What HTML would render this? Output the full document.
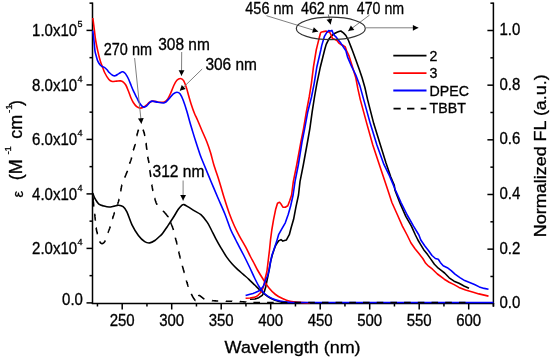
<!DOCTYPE html>
<html><head><meta charset="utf-8"><style>
html,body{margin:0;padding:0;background:#fff;width:550px;height:360px;overflow:hidden}
svg{display:block;will-change:transform;font-family:"Liberation Sans",sans-serif}
text{stroke:#000;stroke-width:0.3px}

</style></head><body>
<svg width="550" height="360" viewBox="0 0 550 360" font-family="Liberation Sans, sans-serif" font-size="15" fill="#000">
<rect width="550" height="360" fill="#fff"/>
<line x1="92.5" y1="2.5" x2="92.5" y2="304" stroke="#000" stroke-width="1.5"/>
<line x1="493.4" y1="2.5" x2="493.4" y2="306.8" stroke="#000" stroke-width="1.5"/>
<line x1="91.8" y1="303.4" x2="494.1" y2="303.4" stroke="#000" stroke-width="1.5"/>
<line x1="89.5" y1="275.65" x2="92.5" y2="275.65" stroke="#000" stroke-width="1.5"/>
<line x1="490.4" y1="276.47" x2="493.4" y2="276.47" stroke="#000" stroke-width="1.5"/>
<line x1="86.5" y1="248.40" x2="92.5" y2="248.40" stroke="#000" stroke-width="1.5"/>
<line x1="487.4" y1="249.14" x2="493.4" y2="249.14" stroke="#000" stroke-width="1.5"/>
<line x1="89.5" y1="221.15" x2="92.5" y2="221.15" stroke="#000" stroke-width="1.5"/>
<line x1="490.4" y1="221.81" x2="493.4" y2="221.81" stroke="#000" stroke-width="1.5"/>
<line x1="86.5" y1="193.90" x2="92.5" y2="193.90" stroke="#000" stroke-width="1.5"/>
<line x1="487.4" y1="194.48" x2="493.4" y2="194.48" stroke="#000" stroke-width="1.5"/>
<line x1="89.5" y1="166.65" x2="92.5" y2="166.65" stroke="#000" stroke-width="1.5"/>
<line x1="490.4" y1="167.15" x2="493.4" y2="167.15" stroke="#000" stroke-width="1.5"/>
<line x1="86.5" y1="139.40" x2="92.5" y2="139.40" stroke="#000" stroke-width="1.5"/>
<line x1="487.4" y1="139.82" x2="493.4" y2="139.82" stroke="#000" stroke-width="1.5"/>
<line x1="89.5" y1="112.15" x2="92.5" y2="112.15" stroke="#000" stroke-width="1.5"/>
<line x1="490.4" y1="112.49" x2="493.4" y2="112.49" stroke="#000" stroke-width="1.5"/>
<line x1="86.5" y1="84.90" x2="92.5" y2="84.90" stroke="#000" stroke-width="1.5"/>
<line x1="487.4" y1="85.16" x2="493.4" y2="85.16" stroke="#000" stroke-width="1.5"/>
<line x1="89.5" y1="57.65" x2="92.5" y2="57.65" stroke="#000" stroke-width="1.5"/>
<line x1="490.4" y1="57.83" x2="493.4" y2="57.83" stroke="#000" stroke-width="1.5"/>
<line x1="86.5" y1="30.40" x2="92.5" y2="30.40" stroke="#000" stroke-width="1.5"/>
<line x1="487.4" y1="30.50" x2="493.4" y2="30.50" stroke="#000" stroke-width="1.5"/>
<line x1="89.5" y1="3.15" x2="92.5" y2="3.15" stroke="#000" stroke-width="1.5"/>
<line x1="490.4" y1="3.17" x2="493.4" y2="3.17" stroke="#000" stroke-width="1.5"/>
<line x1="86.5" y1="302.9" x2="92.5" y2="302.9" stroke="#000" stroke-width="1.5"/>
<line x1="487.4" y1="302.9" x2="493.4" y2="302.9" stroke="#000" stroke-width="1.5"/>
<line x1="97.45" y1="303" x2="97.45" y2="306.5" stroke="#000" stroke-width="1.5"/>
<line x1="122.20" y1="303" x2="122.20" y2="309.5" stroke="#000" stroke-width="1.5"/>
<line x1="146.95" y1="303" x2="146.95" y2="306.5" stroke="#000" stroke-width="1.5"/>
<line x1="171.70" y1="303" x2="171.70" y2="309.5" stroke="#000" stroke-width="1.5"/>
<line x1="196.45" y1="303" x2="196.45" y2="306.5" stroke="#000" stroke-width="1.5"/>
<line x1="221.20" y1="303" x2="221.20" y2="309.5" stroke="#000" stroke-width="1.5"/>
<line x1="245.95" y1="303" x2="245.95" y2="306.5" stroke="#000" stroke-width="1.5"/>
<line x1="270.70" y1="303" x2="270.70" y2="309.5" stroke="#000" stroke-width="1.5"/>
<line x1="295.45" y1="303" x2="295.45" y2="306.5" stroke="#000" stroke-width="1.5"/>
<line x1="320.20" y1="303" x2="320.20" y2="309.5" stroke="#000" stroke-width="1.5"/>
<line x1="344.95" y1="303" x2="344.95" y2="306.5" stroke="#000" stroke-width="1.5"/>
<line x1="369.70" y1="303" x2="369.70" y2="309.5" stroke="#000" stroke-width="1.5"/>
<line x1="394.45" y1="303" x2="394.45" y2="306.5" stroke="#000" stroke-width="1.5"/>
<line x1="419.20" y1="303" x2="419.20" y2="309.5" stroke="#000" stroke-width="1.5"/>
<line x1="443.95" y1="303" x2="443.95" y2="306.5" stroke="#000" stroke-width="1.5"/>
<line x1="468.70" y1="303" x2="468.70" y2="309.5" stroke="#000" stroke-width="1.5"/>
<line x1="493.45" y1="303" x2="493.45" y2="306.5" stroke="#000" stroke-width="1.5"/>
<path d="M92.80,193.00 C93.00,193.58 93.57,195.45 94.00,196.50 C94.43,197.55 94.58,198.03 95.40,199.30 C96.22,200.57 97.47,202.97 98.90,204.10 C100.33,205.23 102.30,205.62 104.00,206.10 C105.70,206.58 107.40,207.00 109.10,207.00 C110.80,207.00 112.62,206.40 114.20,206.10 C115.78,205.80 117.12,205.10 118.60,205.20 C120.08,205.30 121.72,205.60 123.10,206.70 C124.48,207.80 125.42,208.78 126.90,211.80 C128.38,214.82 130.08,220.87 132.00,224.80 C133.92,228.73 136.28,232.60 138.40,235.40 C140.52,238.20 142.80,240.35 144.70,241.60 C146.60,242.85 148.10,243.08 149.80,242.90 C151.50,242.72 153.20,241.65 154.90,240.50 C156.60,239.35 158.70,237.22 160.00,236.00 C161.30,234.78 161.50,234.75 162.70,233.20 C163.90,231.65 165.52,229.18 167.20,226.70 C168.88,224.22 170.95,221.20 172.80,218.30 C174.65,215.40 176.85,211.42 178.30,209.30 C179.75,207.18 180.55,206.38 181.50,205.60 C182.45,204.82 182.88,204.38 184.00,204.60 C185.12,204.82 186.45,205.85 188.20,206.90 C189.95,207.95 192.38,209.60 194.50,210.90 C196.62,212.20 198.77,212.78 200.90,214.70 C203.03,216.62 205.55,219.85 207.30,222.40 C209.05,224.95 210.02,227.35 211.40,230.00 C212.78,232.65 213.98,235.28 215.60,238.30 C217.22,241.32 219.25,244.97 221.10,248.10 C222.95,251.23 224.85,254.45 226.70,257.10 C228.55,259.75 230.35,261.92 232.20,264.00 C234.05,266.08 235.95,267.87 237.80,269.60 C239.65,271.33 241.45,272.78 243.30,274.40 C245.15,276.02 246.95,277.48 248.90,279.30 C250.85,281.12 252.97,283.33 255.00,285.30 C257.03,287.27 258.97,289.23 261.10,291.10 C263.23,292.97 265.58,295.02 267.80,296.50 C270.02,297.98 272.00,299.05 274.40,300.00 C276.80,300.95 279.60,301.73 282.20,302.20 C284.80,302.67 288.70,302.70 290.00,302.80" stroke="#000" stroke-width="1.6" fill="none"/>
<path d="M250.00,299.30 L255.00,299.00 L258.75,297.70 L262.20,295.30 L264.30,291.80 L265.70,287.00 L266.70,282.00 L268.30,274.40 L269.40,268.00 L270.70,261.00 L272.30,255.00 L273.90,250.00 L275.60,245.50 L277.10,243.00 L279.00,240.60 L281.00,239.60 L282.90,241.10 L286.30,240.10 L289.30,234.70 L291.20,227.50 L293.60,219.30 L296.00,206.70 L298.50,195.00 L300.00,181.70 L303.30,165.00 L307.50,142.00 L309.90,128.30 L312.20,111.70 L314.50,97.00 L316.90,83.30 L320.40,66.70 L324.60,50.00 L326.20,44.40 L328.70,39.30 L331.90,35.50 L334.50,33.50 L337.00,32.30 L338.90,31.60 L340.80,31.00 L343.40,32.90 L345.90,35.50 L348.50,40.50 L351.00,46.90 L352.60,51.00 L355.80,59.70 L359.30,69.40 L362.10,77.80 L364.90,87.50 L367.60,99.60 L373.75,123.60 L380.40,145.00 L386.00,163.00 L390.80,177.00 L394.30,185.30 L394.90,190.00 L400.30,203.90 L405.80,216.40 L411.40,226.10 L415.40,235.00 L417.90,240.00 L420.80,244.90 L423.70,249.70 L427.60,254.60 L431.00,259.40 L434.40,264.30 L438.30,268.20 L442.20,271.10 L444.60,273.00 L449.20,277.80 L454.10,281.20 L459.00,283.30 L464.00,286.00 L469.00,288.30" stroke="#000" stroke-width="1.6" fill="none" stroke-linejoin="round"/>
<path d="M92.80,18.00 C92.93,19.00 93.32,21.83 93.60,24.00 C93.88,26.17 94.17,28.33 94.50,31.00 C94.83,33.67 95.05,36.65 95.60,40.00 C96.15,43.35 97.02,47.60 97.80,51.10 C98.58,54.60 99.57,58.50 100.30,61.00 C101.03,63.50 101.48,64.18 102.20,66.10 C102.92,68.02 103.48,70.25 104.60,72.50 C105.72,74.75 107.63,78.10 108.90,79.60 C110.17,81.10 110.90,81.25 112.20,81.50 C113.50,81.75 115.32,81.20 116.70,81.10 C118.08,81.00 119.40,80.73 120.50,80.90 C121.60,81.07 122.42,81.42 123.30,82.10 C124.18,82.78 124.97,83.55 125.80,85.00 C126.63,86.45 127.47,88.72 128.30,90.80 C129.13,92.88 129.97,95.55 130.80,97.50 C131.63,99.45 132.32,100.97 133.30,102.50 C134.28,104.03 135.58,105.77 136.70,106.70 C137.82,107.63 138.90,108.00 140.00,108.10 C141.10,108.20 142.18,107.85 143.30,107.30 C144.42,106.75 145.65,105.65 146.70,104.80 C147.75,103.95 148.50,102.82 149.60,102.20 C150.70,101.58 151.75,101.10 153.30,101.10 C154.85,101.10 157.05,102.05 158.90,102.20 C160.75,102.35 162.92,102.55 164.40,102.00 C165.88,101.45 166.68,100.53 167.80,98.90 C168.92,97.27 170.10,94.43 171.10,92.20 C172.10,89.97 172.83,87.48 173.80,85.50 C174.77,83.52 175.80,81.47 176.90,80.30 C178.00,79.13 179.28,78.45 180.40,78.50 C181.52,78.55 182.58,79.02 183.60,80.60 C184.62,82.18 185.67,85.52 186.50,88.00 C187.33,90.48 187.83,92.85 188.60,95.50 C189.37,98.15 190.13,100.95 191.10,103.90 C192.07,106.85 193.33,110.52 194.40,113.20 C195.47,115.88 196.28,117.20 197.50,120.00 C198.72,122.80 200.17,126.42 201.70,130.00 C203.23,133.58 205.23,137.75 206.70,141.50 C208.17,145.25 209.30,148.58 210.50,152.50 C211.70,156.42 212.42,160.13 213.90,165.00 C215.38,169.87 217.67,176.15 219.40,181.70 C221.13,187.25 222.60,192.87 224.30,198.30 C226.00,203.73 227.92,209.68 229.60,214.30 C231.28,218.92 232.78,222.42 234.40,226.00 C236.02,229.58 237.43,232.32 239.30,235.80 C241.17,239.28 243.75,243.45 245.60,246.90 C247.45,250.35 248.90,253.60 250.40,256.50 C251.90,259.40 253.42,262.05 254.60,264.30 C255.78,266.55 256.10,267.55 257.50,270.00 C258.90,272.45 261.08,276.00 263.00,279.00 C264.92,282.00 266.92,285.42 269.00,288.00 C271.08,290.58 273.25,292.75 275.50,294.50 C277.75,296.25 280.08,297.38 282.50,298.50 C284.92,299.62 287.08,300.55 290.00,301.20 C292.92,301.85 296.67,302.12 300.00,302.40 C303.33,302.68 308.33,302.82 310.00,302.90" stroke="#f00" stroke-width="1.6" fill="none"/>
<path d="M245.60,298.30 L250.00,298.00 L253.75,297.40 L256.50,296.40 L258.00,295.30 L260.80,292.50 L262.90,288.30 L264.30,283.50 L265.30,278.00 L266.90,271.50 L268.30,260.00 L269.50,250.00 L270.50,240.00 L271.80,230.00 L273.60,219.30 L275.60,209.60 L277.50,203.30 L279.50,202.30 L280.90,203.80 L282.90,207.20 L285.30,207.20 L287.80,205.70 L289.70,200.80 L291.60,195.00 L293.30,181.70 L296.70,165.00 L300.80,142.50 L303.60,128.30 L306.40,111.70 L309.20,97.00 L311.40,83.30 L313.50,66.70 L316.25,50.00 L317.30,45.60 L319.20,38.00 L320.50,33.00 L321.10,32.30 L323.60,31.60 L326.20,31.00 L327.50,32.30 L329.40,31.60 L331.30,35.50 L332.50,38.60 L334.50,39.30 L337.00,40.50 L338.90,43.10 L340.80,44.40 L343.40,45.60 L345.30,46.90 L346.50,50.50 L348.90,55.60 L352.40,66.70 L355.80,77.80 L357.90,88.90 L360.30,99.60 L366.80,123.60 L372.80,145.00 L379.70,165.80 L385.30,182.50 L387.80,190.00 L391.90,202.50 L397.50,215.00 L402.40,226.10 L407.10,235.00 L411.00,243.00 L415.00,248.70 L418.90,253.60 L422.80,258.50 L425.70,263.30 L428.60,266.20 L432.50,269.20 L437.40,274.00 L444.30,279.20 L449.20,282.20 L454.10,284.60 L459.00,287.40 L465.60,290.00 L473.30,292.20 L478.90,293.90 L488.50,296.10" stroke="#f00" stroke-width="1.6" fill="none" stroke-linejoin="round"/>
<path d="M92.70,30.50 C92.82,31.42 93.17,34.08 93.40,36.00 C93.63,37.92 93.83,39.48 94.10,42.00 C94.37,44.52 94.60,48.60 95.00,51.10 C95.40,53.60 96.03,55.33 96.50,57.00 C96.97,58.67 97.22,59.80 97.80,61.10 C98.38,62.40 99.37,63.95 100.00,64.80 C100.63,65.65 100.87,65.77 101.60,66.20 C102.33,66.63 103.50,66.80 104.40,67.40 C105.30,68.00 106.15,68.90 107.00,69.80 C107.85,70.70 108.58,71.90 109.50,72.80 C110.42,73.70 111.55,74.70 112.50,75.20 C113.45,75.70 114.13,76.07 115.20,75.80 C116.27,75.53 117.68,74.27 118.90,73.60 C120.12,72.93 121.52,71.90 122.50,71.80 C123.48,71.70 124.10,72.37 124.80,73.00 C125.50,73.63 126.04,74.52 126.70,75.60 C127.36,76.68 127.99,77.80 128.75,79.50 C129.51,81.20 130.42,83.77 131.25,85.80 C132.08,87.83 132.84,89.75 133.75,91.70 C134.66,93.65 135.79,95.70 136.70,97.50 C137.61,99.30 138.37,101.12 139.20,102.50 C140.03,103.88 140.87,105.03 141.70,105.80 C142.53,106.57 143.37,107.10 144.20,107.10 C145.03,107.10 145.80,106.55 146.70,105.80 C147.60,105.05 148.68,103.38 149.60,102.60 C150.52,101.82 150.83,101.17 152.20,101.10 C153.57,101.03 155.77,101.92 157.80,102.20 C159.83,102.48 162.55,103.35 164.40,102.80 C166.25,102.25 167.42,100.38 168.90,98.90 C170.38,97.42 171.97,95.02 173.30,93.90 C174.63,92.78 175.78,92.22 176.90,92.20 C178.02,92.18 178.93,92.42 180.00,93.80 C181.07,95.18 182.18,97.67 183.30,100.50 C184.42,103.33 185.68,107.47 186.70,110.80 C187.72,114.13 188.48,117.30 189.40,120.50 C190.32,123.70 191.17,126.57 192.20,130.00 C193.23,133.43 194.30,137.03 195.60,141.10 C196.90,145.17 198.57,150.42 200.00,154.40 C201.43,158.38 202.35,160.45 204.20,165.00 C206.05,169.55 208.78,176.15 211.10,181.70 C213.42,187.25 215.78,192.87 218.10,198.30 C220.42,203.73 222.93,209.15 225.00,214.30 C227.07,219.45 228.70,224.92 230.50,229.20 C232.30,233.48 234.58,237.55 235.80,240.00 C237.02,242.45 236.50,241.40 237.80,243.90 C239.10,246.40 241.65,251.15 243.60,255.00 C245.55,258.85 247.67,263.17 249.50,267.00 C251.33,270.83 252.93,274.62 254.60,278.00 C256.27,281.38 257.77,284.63 259.50,287.30 C261.23,289.97 262.92,292.13 265.00,294.00 C267.08,295.87 269.50,297.33 272.00,298.50 C274.50,299.67 277.00,300.37 280.00,301.00 C283.00,301.63 286.67,302.05 290.00,302.30 C293.33,302.55 266.10,302.47 300.00,302.50 C333.90,302.53 461.17,302.50 493.40,302.50" stroke="#00f" stroke-width="1.6" fill="none"/>
<path d="M245.60,295.60 L250.00,294.20 L253.00,293.50 L258.75,291.10 L261.50,288.50 L263.50,286.00 L265.60,280.00 L267.50,276.00 L269.20,270.00 L270.50,262.00 L272.00,255.00 L273.70,250.30 L276.60,241.60 L278.60,234.70 L281.40,229.60 L285.30,222.80 L288.20,214.50 L290.70,205.70 L293.10,195.00 L295.00,181.70 L298.30,165.00 L302.00,142.00 L304.70,128.30 L307.80,111.70 L311.50,97.00 L314.20,83.30 L316.90,66.70 L320.80,50.00 L321.70,45.60 L324.30,36.70 L326.80,32.30 L328.70,30.60 L330.60,31.00 L331.90,30.40 L333.20,33.50 L334.50,35.50 L336.40,37.40 L338.30,39.90 L340.80,43.10 L343.40,47.00 L345.90,50.70 L347.50,56.90 L351.70,66.70 L355.80,75.00 L360.00,86.10 L363.70,99.60 L370.30,123.60 L376.90,145.00 L383.90,164.40 L389.40,175.60 L392.90,183.90 L395.40,190.00 L401.00,202.50 L407.20,215.00 L413.50,226.10 L418.90,235.00 L420.80,240.00 L424.70,245.80 L428.60,250.70 L432.00,255.50 L435.40,258.50 L438.30,259.30 L440.30,262.40 L443.20,265.80 L447.30,267.70 L451.20,270.60 L455.00,274.20 L459.90,277.60 L464.70,280.60 L469.60,282.50 L474.50,284.50 L479.30,286.90 L484.20,288.40 L488.50,289.30" stroke="#00f" stroke-width="1.6" fill="none" stroke-linejoin="round"/>
<path d="M92.70,197.20 L92.99,197.40 L93.01,197.56 L93.02,197.73 L93.03,197.90 L93.05,198.07 L93.06,198.24 L93.08,198.41 L93.09,198.59 L93.10,198.76 L93.12,198.94 L93.13,199.11 L93.15,199.29 L93.16,199.46 L93.18,199.64 L93.19,199.81 L93.21,199.99 L93.22,200.16 L93.24,200.33 L93.25,200.50 L93.27,200.67 L93.28,200.84 L93.30,201.00 L93.32,201.16 L93.33,201.33 L93.35,201.49 L93.36,201.66 L93.38,201.83 L93.39,202.00 L93.41,202.17 L93.43,202.34 L93.44,202.51 L93.46,202.68 L93.48,202.85 L93.49,203.03 L93.51,203.20 L93.53,203.38 L93.54,203.55 L93.56,203.73 L93.58,203.90 L93.60,204.08 L93.61,204.26 L93.63,204.44 L93.65,204.62 L93.67,204.79 L93.69,204.97 L93.70,205.15 L93.72,205.33 L93.74,205.51 L93.76,205.69 L93.78,205.87 L93.79,206.05 L94.30,206.10 M94.40,214.00 L94.70,214.12 L94.72,214.30 L94.74,214.47 L94.76,214.65 L94.78,214.82 L94.80,215.00 L94.82,215.17 L94.84,215.35 L94.86,215.53 L94.87,215.70 L94.89,215.88 L94.91,216.05 L94.93,216.22 L94.94,216.40 L94.96,216.58 L94.98,216.75 L95.00,216.93 L95.01,217.10 L95.03,217.28 L95.05,217.45 L95.07,217.62 L95.08,217.80 L95.10,217.97 L95.12,218.15 L95.13,218.32 L95.15,218.50 L95.17,218.68 L95.18,218.85 L95.20,219.03 L95.22,219.20 L95.23,219.38 L95.25,219.55 L95.27,219.73 L95.29,219.90 L95.30,220.08 L95.32,220.25 L95.34,220.43 L95.30,220.60 M95.90,227.70 L96.13,227.86 L96.15,228.03 L96.18,228.20 L96.20,228.36 L96.22,228.52 L96.25,228.68 L96.27,228.84 L96.30,229.00 L96.33,229.16 L96.35,229.31 L96.38,229.46 L96.41,229.61 L96.43,229.75 L96.46,229.90 L96.49,230.04 L96.52,230.18 L96.55,230.32 L96.58,230.46 L96.60,230.59 L96.63,230.73 L96.66,230.86 L96.69,231.00 L96.72,231.13 L96.76,231.26 L96.79,231.39 L96.82,231.52 L96.85,231.65 L96.88,231.78 L96.91,231.91 L96.95,232.04 L96.98,232.17 L97.01,232.30 L97.05,232.43 L97.08,232.56 L97.12,232.69 L97.15,232.82 L97.19,232.96 L97.22,233.09 L97.26,233.22 L97.29,233.36 L97.33,233.50 L97.37,233.64 L97.41,233.77 L97.44,233.92 L97.60,234.10 M99.50,241.70 L99.82,241.70 L99.86,241.78 L99.91,241.87 L99.95,241.95 L100.00,242.03 L100.04,242.10 L100.09,242.18 L100.13,242.25 L100.18,242.31 L100.22,242.38 L100.27,242.44 L100.31,242.50 L100.36,242.56 L100.40,242.62 L100.44,242.67 L100.49,242.73 L100.53,242.78 L100.58,242.82 L100.62,242.87 L100.67,242.92 L100.71,242.96 L100.76,243.00 L100.80,243.04 L100.85,243.08 L100.89,243.12 L100.94,243.15 L100.98,243.19 L101.03,243.22 L101.07,243.25 L101.12,243.28 L101.16,243.31 L101.21,243.34 L101.25,243.37 L101.30,243.40 L101.35,243.43 L101.39,243.45 L101.44,243.47 L101.49,243.50 L101.53,243.52 L101.58,243.53 L101.62,243.55 L101.67,243.57 L101.72,243.58 L101.76,243.59 L101.81,243.60 L101.86,243.61 L101.90,243.62 L101.95,243.62 L102.00,243.63 L102.04,243.63 L102.09,243.63 L102.14,243.63 L102.18,243.62 L102.23,243.62 L102.28,243.61 L102.33,243.60 L102.37,243.60 L102.42,243.58 L102.47,243.57 L102.52,243.56 L102.56,243.54 L102.61,243.53 L102.66,243.51 L102.71,243.49 L102.76,243.46 L102.81,243.44 L102.85,243.42 L102.90,243.39 L102.95,243.36 L103.00,243.33 L103.05,243.30 L103.10,243.27 L103.15,243.24 L103.20,243.20 L103.25,243.16 L103.30,243.13 L103.35,243.09 L103.40,243.05 L103.45,243.01 L103.50,242.98 L103.55,242.94 L103.60,242.90 L103.65,242.86 L103.70,242.81 L103.75,242.77 L103.80,242.72 L103.85,242.68 L103.90,242.63 L103.96,242.58 L104.01,242.53 L104.06,242.48 L104.11,242.42 L104.16,242.37 L104.21,242.31 L104.26,242.24 L104.32,242.18 L104.37,242.11 L104.42,242.05 L104.47,241.97 L104.53,241.90 L104.58,241.82 L104.63,241.74 L104.69,241.66 L104.74,241.57 L104.80,241.48 L104.85,241.39 L104.91,241.29 L104.96,241.19 L105.02,241.08 L105.07,240.98 L105.13,240.86 L105.19,240.75 L105.24,240.63 L105.30,240.50 M107.80,232.80 L107.93,232.65 L107.99,232.47 L108.06,232.30 L108.13,232.12 L108.19,231.95 L108.26,231.78 L108.32,231.61 L108.39,231.44 L108.46,231.27 L108.53,231.10 L108.59,230.93 L108.66,230.77 L108.73,230.60 L108.80,230.43 L108.87,230.27 L108.93,230.10 L109.00,229.94 L109.07,229.77 L109.14,229.61 L109.20,229.44 L109.27,229.28 L109.34,229.11 L109.41,228.95 L109.47,228.78 L109.54,228.62 L109.60,228.46 L109.67,228.29 L109.73,228.13 L109.80,227.96 L109.86,227.80 L109.92,227.63 L109.99,227.47 L110.05,227.30 L110.11,227.14 L110.17,226.97 L110.23,226.80 L110.29,226.64 L110.40,226.50 M112.30,218.80 L112.56,218.64 L112.61,218.47 L112.66,218.30 L112.71,218.13 L112.76,217.96 L112.81,217.79 L112.86,217.61 L112.92,217.44 L112.97,217.27 L113.02,217.10 L113.07,216.93 L113.12,216.76 L113.18,216.59 L113.23,216.41 L113.28,216.24 L113.34,216.07 L113.39,215.90 L113.45,215.72 L113.50,215.55 L113.56,215.37 L113.61,215.20 L113.67,215.02 L113.72,214.85 L113.78,214.67 L113.84,214.50 L113.89,214.32 L113.95,214.14 L114.01,213.96 L114.07,213.78 L114.13,213.60 L114.19,213.42 L114.25,213.24 L114.31,213.05 L114.37,212.87 L114.44,212.69 L114.80,212.50 M117.40,204.80 L117.40,204.60 L117.46,204.43 L117.52,204.26 L117.58,204.09 L117.63,203.92 L117.69,203.76 L117.75,203.60 L117.80,203.44 L117.86,203.28 L117.91,203.12 L117.96,202.97 L118.01,202.82 L118.07,202.66 L118.12,202.51 L118.17,202.36 L118.22,202.22 L118.27,202.07 L118.31,201.92 L118.36,201.78 L118.41,201.63 L118.46,201.49 L118.50,201.34 L118.55,201.20 L118.59,201.06 L118.64,200.92 L118.68,200.77 L118.73,200.63 L118.77,200.49 L118.81,200.35 L118.86,200.21 L118.90,200.06 L118.94,199.92 L118.98,199.78 L119.02,199.63 L119.06,199.49 L119.10,199.34 L119.14,199.20 L119.30,199.10 M120.40,191.00 L120.77,190.91 L120.80,190.72 L120.83,190.54 L120.86,190.35 L120.89,190.16 L120.92,189.97 L120.95,189.79 L120.98,189.60 L121.01,189.41 L121.04,189.21 L121.07,189.02 L121.10,188.83 L121.13,188.64 L121.16,188.45 L121.20,188.25 L121.23,188.06 L121.26,187.87 L121.30,187.67 L121.33,187.48 L121.37,187.29 L121.41,187.09 L121.45,186.90 L121.49,186.71 L121.53,186.52 L121.57,186.32 L121.61,186.13 L121.66,185.94 L121.70,185.75 L121.75,185.56 L121.80,185.37 L121.85,185.19 L121.90,185.00 L122.20,184.80 M124.70,177.60 L124.77,177.42 L124.84,177.24 L124.91,177.07 L124.98,176.89 L125.05,176.71 L125.13,176.54 L125.20,176.36 L125.27,176.19 L125.34,176.01 L125.42,175.84 L125.49,175.67 L125.56,175.49 L125.63,175.32 L125.71,175.15 L125.78,174.98 L125.85,174.81 L125.93,174.63 L126.00,174.46 L126.07,174.29 L126.14,174.12 L126.22,173.95 L126.29,173.78 L126.36,173.61 L126.43,173.44 L126.50,173.27 L126.57,173.10 L126.64,172.93 L126.71,172.76 L126.78,172.59 L126.85,172.42 L126.92,172.25 L126.98,172.08 L127.05,171.90 L127.12,171.73 L127.18,171.56 L127.25,171.39 L127.31,171.22 L127.38,171.05 L127.44,170.87 L127.50,170.70 M129.60,163.75 L129.65,163.59 L129.71,163.42 L129.76,163.26 L129.81,163.10 L129.87,162.94 L129.92,162.78 L129.98,162.62 L130.03,162.46 L130.08,162.31 L130.14,162.15 L130.19,161.99 L130.25,161.84 L130.30,161.68 L130.36,161.53 L130.41,161.37 L130.47,161.22 L130.52,161.07 L130.58,160.91 L130.63,160.76 L130.69,160.61 L130.74,160.46 L130.80,160.30 L130.85,160.15 L130.90,160.00 L130.96,159.85 L131.01,159.69 L131.06,159.54 L131.11,159.39 L131.17,159.23 L131.22,159.08 L131.27,158.92 L131.32,158.77 L131.37,158.61 L131.42,158.46 L131.47,158.30 L131.51,158.14 L131.56,157.98 L131.61,157.82 L131.65,157.66 L131.70,157.50 M133.20,150.30 L133.38,150.16 L133.42,150.00 L133.47,149.85 L133.51,149.70 L133.56,149.54 L133.61,149.39 L133.66,149.24 L133.70,149.09 L133.75,148.93 L133.80,148.78 L133.85,148.63 L133.90,148.48 L133.95,148.33 L134.00,148.18 L134.05,148.03 L134.10,147.88 L134.15,147.73 L134.20,147.58 L134.25,147.43 L134.30,147.28 L134.35,147.12 L134.40,146.97 L134.45,146.81 L134.50,146.66 L134.55,146.50 L134.60,146.34 L134.64,146.19 L134.69,146.02 L134.74,145.86 L134.79,145.70 L134.83,145.53 L134.88,145.37 L134.92,145.20 L134.97,145.03 L135.01,144.85 L135.06,144.68 L135.10,144.50 L135.14,144.32 L135.00,144.00 M136.50,135.90 L136.78,135.75 L136.82,135.56 L136.87,135.37 L136.92,135.18 L136.96,134.99 L137.01,134.80 L137.06,134.62 L137.11,134.43 L137.16,134.24 L137.21,134.05 L137.26,133.86 L137.30,133.68 L137.35,133.49 L137.40,133.31 L137.45,133.13 L137.51,132.94 L137.56,132.76 L137.61,132.58 L137.66,132.41 L137.71,132.23 L137.76,132.06 L137.81,131.88 L137.87,131.71 L137.92,131.54 L137.97,131.38 L138.02,131.21 L138.07,131.05 L138.13,130.89 L138.18,130.74 L138.23,130.59 L138.28,130.43 L138.34,130.29 L138.39,130.14 L138.44,130.00 L138.49,129.86 L138.55,129.73 L138.60,129.60 M143.00,129.60 L143.05,129.72 L143.10,129.85 L143.15,129.98 L143.21,130.11 L143.26,130.25 L143.31,130.39 L143.36,130.53 L143.41,130.68 L143.46,130.82 L143.51,130.97 L143.57,131.12 L143.62,131.27 L143.67,131.43 L143.72,131.59 L143.77,131.75 L143.82,131.91 L143.87,132.07 L143.92,132.23 L143.97,132.40 L144.02,132.56 L144.07,132.73 L144.12,132.90 L144.16,133.07 L144.21,133.24 L144.26,133.41 L144.31,133.58 L144.35,133.75 L144.40,133.93 L144.44,134.10 L144.49,134.27 L144.53,134.45 L144.58,134.62 L144.62,134.79 L144.66,134.97 L144.70,135.14 L144.74,135.31 L144.78,135.49 L144.82,135.66 L144.90,135.90 M145.80,143.20 L146.02,143.37 L146.05,143.53 L146.07,143.70 L146.09,143.86 L146.11,144.02 L146.14,144.18 L146.16,144.34 L146.18,144.50 L146.20,144.66 L146.22,144.81 L146.24,144.97 L146.26,145.12 L146.28,145.28 L146.30,145.43 L146.32,145.58 L146.34,145.74 L146.36,145.89 L146.37,146.04 L146.39,146.19 L146.41,146.34 L146.43,146.50 L146.45,146.65 L146.47,146.80 L146.49,146.95 L146.51,147.10 L146.52,147.26 L146.54,147.41 L146.56,147.56 L146.58,147.72 L146.60,147.88 L146.62,148.03 L146.64,148.19 L146.66,148.35 L146.68,148.51 L146.70,148.67 L146.72,148.83 L146.74,149.00 L146.76,149.16 L146.78,149.33 L146.80,149.50 L146.82,149.67 L146.80,149.80 M147.60,156.80 L147.73,156.97 L147.76,157.13 L147.79,157.30 L147.82,157.46 L147.85,157.62 L147.88,157.78 L147.91,157.94 L147.94,158.10 L147.98,158.25 L148.01,158.41 L148.04,158.56 L148.08,158.72 L148.11,158.87 L148.15,159.02 L148.18,159.17 L148.22,159.32 L148.25,159.47 L148.29,159.62 L148.32,159.77 L148.36,159.92 L148.39,160.07 L148.43,160.22 L148.46,160.37 L148.50,160.52 L148.53,160.66 L148.57,160.81 L148.60,160.96 L148.63,161.12 L148.67,161.27 L148.70,161.42 L148.73,161.57 L148.77,161.73 L148.80,161.88 L148.83,162.04 L148.86,162.19 L148.89,162.35 L148.92,162.51 L148.95,162.67 L148.97,162.84 L149.00,163.00 M149.70,170.00 L149.82,170.17 L149.85,170.35 L149.87,170.52 L149.89,170.70 L149.92,170.87 L149.94,171.04 L149.96,171.22 L149.99,171.39 L150.01,171.56 L150.04,171.74 L150.06,171.91 L150.09,172.08 L150.11,172.25 L150.14,172.43 L150.16,172.60 L150.19,172.77 L150.21,172.94 L150.24,173.12 L150.26,173.29 L150.29,173.46 L150.31,173.64 L150.34,173.81 L150.36,173.98 L150.39,174.16 L150.42,174.33 L150.44,174.51 L150.47,174.68 L150.49,174.86 L150.52,175.03 L150.55,175.21 L150.57,175.38 L150.60,175.56 L150.62,175.74 L150.65,175.92 L150.67,176.10 L150.70,176.28 L150.72,176.46 L150.75,176.64 L150.77,176.82 L150.80,177.00 M151.60,184.80 L151.85,184.95 L151.88,185.13 L151.91,185.30 L151.94,185.47 L151.96,185.64 L151.99,185.81 L152.02,185.98 L152.05,186.14 L152.07,186.31 L152.10,186.48 L152.13,186.64 L152.16,186.80 L152.19,186.97 L152.21,187.13 L152.24,187.29 L152.27,187.45 L152.30,187.62 L152.33,187.78 L152.36,187.94 L152.39,188.10 L152.41,188.26 L152.44,188.42 L152.47,188.58 L152.50,188.74 L152.54,188.90 L152.57,189.06 L152.60,189.22 L152.63,189.38 L152.66,189.55 L152.69,189.71 L152.72,189.87 L152.76,190.03 L152.79,190.20 L152.82,190.36 L152.86,190.53 L152.89,190.69 L152.93,190.86 L153.00,191.00 M154.60,198.30 L154.75,198.36 L154.80,198.53 L154.84,198.69 L154.89,198.85 L154.94,199.02 L154.99,199.18 L155.04,199.34 L155.08,199.51 L155.13,199.67 L155.18,199.83 L155.23,199.99 L155.28,200.16 L155.33,200.32 L155.38,200.48 L155.43,200.64 L155.48,200.80 L155.53,200.96 L155.58,201.11 L155.64,201.27 L155.69,201.42 L155.74,201.58 L155.79,201.73 L155.84,201.88 L155.90,202.04 L155.95,202.18 L156.00,202.33 L156.06,202.48 L156.11,202.62 L156.17,202.77 L156.22,202.91 L156.28,203.05 L156.34,203.18 L156.39,203.32 L156.45,203.45 L156.51,203.58 L156.56,203.71 L156.62,203.84 L156.68,203.96 L156.74,204.08 L156.80,204.20 L156.86,204.32 L156.92,204.43 L156.98,204.54 L157.04,204.65 L157.10,204.80 M163.20,210.80 L163.24,210.96 L163.36,211.10 L163.49,211.24 L163.62,211.39 L163.76,211.54 L163.90,211.70 L164.04,211.86 L164.18,212.03 L164.33,212.19 L164.48,212.36 L164.63,212.54 L164.78,212.71 L164.94,212.89 L165.09,213.08 L165.25,213.26 L165.40,213.44 L165.56,213.63 L165.72,213.82 L165.88,214.01 L166.03,214.20 L166.19,214.39 L166.34,214.58 L166.50,214.77 L166.65,214.96 L166.80,215.14 L166.95,215.33 L167.10,215.52 L167.24,215.71 L167.38,215.89 L167.52,216.07 L167.66,216.26 L167.79,216.43 L167.92,216.61 L168.04,216.78 L167.90,217.10 M170.70,222.50 L170.78,222.69 L170.84,222.85 L170.90,223.00 L170.96,223.16 L171.02,223.32 L171.09,223.48 L171.15,223.64 L171.22,223.80 L171.28,223.97 L171.35,224.14 L171.41,224.30 L171.48,224.47 L171.55,224.65 L171.62,224.82 L171.68,224.99 L171.75,225.17 L171.82,225.34 L171.89,225.52 L171.96,225.70 L172.03,225.88 L172.09,226.06 L172.16,226.24 L172.23,226.42 L172.30,226.60 L172.37,226.78 L172.44,226.97 L172.50,227.15 L172.57,227.33 L172.64,227.52 L172.70,227.70 L172.77,227.89 L172.83,228.07 L172.90,228.26 L172.96,228.44 L173.03,228.63 L173.09,228.81 L173.15,229.00 L173.21,229.18 L173.27,229.37 L173.33,229.55 L173.39,229.73 L173.44,229.92 L173.50,230.10 M175.30,237.60 L175.35,237.78 L175.39,237.96 L175.44,238.14 L175.49,238.32 L175.54,238.50 L175.58,238.68 L175.63,238.85 L175.68,239.03 L175.73,239.21 L175.78,239.39 L175.83,239.56 L175.88,239.74 L175.92,239.91 L175.97,240.09 L176.02,240.26 L176.07,240.44 L176.12,240.61 L176.17,240.78 L176.22,240.96 L176.27,241.13 L176.32,241.30 L176.37,241.48 L176.42,241.65 L176.46,241.82 L176.51,242.00 L176.56,242.17 L176.61,242.34 L176.66,242.52 L176.70,242.69 L176.75,242.86 L176.80,243.03 L176.84,243.21 L176.89,243.38 L176.94,243.55 L176.98,243.73 L177.03,243.90 L177.07,244.08 L177.11,244.25 L177.16,244.43 L177.20,244.60 M178.50,251.60 L178.74,251.77 L178.78,251.95 L178.82,252.13 L178.86,252.30 L178.90,252.48 L178.94,252.65 L178.98,252.82 L179.02,253.00 L179.07,253.18 L179.11,253.35 L179.15,253.53 L179.19,253.70 L179.23,253.88 L179.27,254.05 L179.31,254.22 L179.36,254.40 L179.40,254.57 L179.44,254.75 L179.48,254.93 L179.53,255.10 L179.57,255.28 L179.61,255.45 L179.65,255.63 L179.70,255.80 L179.74,255.98 L179.78,256.15 L179.83,256.33 L179.87,256.50 L179.91,256.68 L179.96,256.85 L180.00,257.03 L180.04,257.20 L180.09,257.38 L180.13,257.55 L180.18,257.73 L180.22,257.90 L180.27,258.08 L180.31,258.25 L180.36,258.43 L180.40,258.60 M182.40,265.80 L182.40,265.96 L182.45,266.13 L182.50,266.31 L182.55,266.49 L182.59,266.67 L182.64,266.85 L182.69,267.02 L182.74,267.20 L182.79,267.38 L182.84,267.56 L182.89,267.74 L182.94,267.92 L182.99,268.10 L183.04,268.28 L183.09,268.46 L183.14,268.64 L183.19,268.82 L183.24,269.00 L183.29,269.18 L183.34,269.36 L183.39,269.54 L183.44,269.72 L183.50,269.90 L183.55,270.08 L183.60,270.26 L183.65,270.44 L183.70,270.62 L183.75,270.80 L183.80,270.98 L183.85,271.16 L183.90,271.34 L183.95,271.53 L184.00,271.71 L184.05,271.89 L184.10,272.07 L184.15,272.25 L184.20,272.44 L184.25,272.62 L184.40,272.70 M186.40,280.40 L186.40,280.54 L186.45,280.71 L186.50,280.88 L186.54,281.05 L186.59,281.22 L186.64,281.38 L186.68,281.55 L186.73,281.71 L186.78,281.87 L186.82,282.03 L186.87,282.19 L186.91,282.35 L186.96,282.51 L187.01,282.67 L187.05,282.83 L187.10,282.99 L187.14,283.15 L187.19,283.30 L187.24,283.46 L187.28,283.62 L187.33,283.78 L187.38,283.94 L187.43,284.09 L187.48,284.25 L187.53,284.41 L187.58,284.57 L187.63,284.73 L187.68,284.89 L187.73,285.05 L187.78,285.21 L187.84,285.37 L187.89,285.53 L187.95,285.70 L188.00,285.86 L188.06,286.03 L188.12,286.19 L188.18,286.36 L188.24,286.53 L188.30,286.70 M191.30,293.90 L191.37,294.05 L191.44,294.20 L191.51,294.35 L191.59,294.50 L191.66,294.64 L191.73,294.79 L191.80,294.93 L191.87,295.07 L191.94,295.21 L192.01,295.35 L192.08,295.49 L192.15,295.63 L192.22,295.77 L192.30,295.90 L192.37,296.03 L192.44,296.16 L192.50,296.29 L192.57,296.42 L192.64,296.55 L192.71,296.68 L192.78,296.80 L192.85,296.92 L192.92,297.04 L192.98,297.16 L193.05,297.28 L193.12,297.39 L193.19,297.50 L193.25,297.62 L193.32,297.73 L193.38,297.83 L193.45,297.94 L193.51,298.04 L193.57,298.14 L193.64,298.24 L193.70,298.34 L193.76,298.44 L193.82,298.53 L193.88,298.62 L193.94,298.71 L194.00,298.80 L194.06,298.89 L194.12,298.97 L194.17,299.06 L194.23,299.14 L194.29,299.22 L194.34,299.30 L194.40,299.38 L194.45,299.46 L194.51,299.54 L194.56,299.62 L194.61,299.69 L194.67,299.76 L194.72,299.84 L194.77,299.91 L194.82,299.97 L194.87,300.04 L194.93,300.10 L194.98,300.16 L195.03,300.22 L195.07,300.28 L195.12,300.34 L195.17,300.39 L195.22,300.44 L195.27,300.48 L195.32,300.53 L195.40,300.50 M198.50,294.90 L198.90,295.53 L198.95,295.51 L199.00,295.50 L199.05,295.49 L199.10,295.48 L199.15,295.48 L199.21,295.49 L199.26,295.49 L199.32,295.50 L199.37,295.52 L199.43,295.53 L199.49,295.56 L199.55,295.58 L199.60,295.61 L199.66,295.64 L199.72,295.67 L199.79,295.71 L199.85,295.74 L199.91,295.78 L199.97,295.83 L200.03,295.87 L200.10,295.92 L200.16,295.96 L200.23,296.01 L200.29,296.06 L200.36,296.11 L200.42,296.16 L200.49,296.22 L200.56,296.27 L200.62,296.33 L200.69,296.38 L200.76,296.43 L200.82,296.49 L200.89,296.54 L200.96,296.60 L201.03,296.65 L201.09,296.70 L201.16,296.76 L201.23,296.81 L201.30,296.86 L201.36,296.91 L201.43,296.95 L201.50,297.00 L201.57,297.05 L201.64,297.09 L201.70,297.14 L201.77,297.19 L201.84,297.24 L201.91,297.29 L201.97,297.35 L202.04,297.40 L202.11,297.46 L202.18,297.51 L202.25,297.57 L202.32,297.62 L202.39,297.68 L202.46,297.74 L202.53,297.80 L202.60,297.85 L202.67,297.91 L202.74,297.97 L202.81,298.03 L202.88,298.09 L202.95,298.15 L203.03,298.20 L203.10,298.26 L203.17,298.32 L203.24,298.37 L203.32,298.43 L203.39,298.48 L203.47,298.54 L203.54,298.59 L203.62,298.65 L203.69,298.70 L203.77,298.75 L203.85,298.80 L203.92,298.84 L204.00,298.89 L204.08,298.94 L204.16,298.98 L204.24,299.02 L204.32,299.06 L204.40,299.10 M212.10,300.50 L212.22,300.61 L212.34,300.62 L212.46,300.64 L212.58,300.65 L212.70,300.66 L212.81,300.67 L212.92,300.68 L213.04,300.69 L213.15,300.71 L213.26,300.72 L213.37,300.73 L213.48,300.74 L213.60,300.75 L213.71,300.76 L213.82,300.77 L213.94,300.78 L214.06,300.79 L214.18,300.80 L214.30,300.81 L214.43,300.82 L214.56,300.83 L214.69,300.84 L214.83,300.85 L214.97,300.86 L215.12,300.87 L215.26,300.88 L215.42,300.88 L215.58,300.89 L215.74,300.90 L215.91,300.91 L216.09,300.92 L216.27,300.93 L216.46,300.94 L216.66,300.95 L216.86,300.96 L217.07,300.96 L217.29,300.97 L217.52,300.98 L217.76,300.99 L218.00,301.00 L218.20,301.00 M225.80,301.00 L226.05,301.18 L226.44,301.18 L226.83,301.19 L227.22,301.20 L227.61,301.21 L227.99,301.21 L228.36,301.22 L228.73,301.23 L229.10,301.23 L229.45,301.24 L229.81,301.25 L230.15,301.26 L230.48,301.26 L230.81,301.27 L231.12,301.28 L231.43,301.29 L231.72,301.29 L232.00,301.30 L232.20,301.40 M239.80,301.40 L240.00,301.60 L240.22,301.61 L240.44,301.62 L240.66,301.64 L240.87,301.65 L241.09,301.66 L241.30,301.68 L241.50,301.69 L241.71,301.71 L241.92,301.72 L242.12,301.74 L242.33,301.75 L242.54,301.77 L242.75,301.78 L242.95,301.80 L243.16,301.82 L243.38,301.83 L243.59,301.85 L243.81,301.87 L244.03,301.88 L244.25,301.90 L244.48,301.92 L244.71,301.93 L244.94,301.95 L245.18,301.97 L245.43,301.98 L245.68,302.00 L245.94,302.02 L246.20,302.20 M253.40,302.5 L260.00,302.5 M267.10,302.5 L273.70,302.5 M280.80,302.5 L287.40,302.5 M294.50,302.5 L301.10,302.5 M308.20,302.5 L314.80,302.5 M321.90,302.5 L328.50,302.5 M335.60,302.5 L342.20,302.5 M349.30,302.5 L355.90,302.5 M363.00,302.5 L369.60,302.5 M376.70,302.5 L383.30,302.5 M390.40,302.5 L397.00,302.5 M404.10,302.5 L410.70,302.5 M417.80,302.5 L424.40,302.5 M431.50,302.5 L438.10,302.5 M445.20,302.5 L451.80,302.5 M458.90,302.5 L465.50,302.5 " stroke="#000" stroke-width="1.6" fill="none" stroke-linejoin="round"/>
<text transform="translate(77.1,254.10) scale(1,1.04)" text-anchor="end">2.0x10</text>
<text transform="translate(77.6,245.10) scale(1,1.04)" font-size="9">4</text>
<text transform="translate(77.1,199.60) scale(1,1.04)" text-anchor="end">4.0x10</text>
<text transform="translate(77.6,190.60) scale(1,1.04)" font-size="9">4</text>
<text transform="translate(77.1,145.10) scale(1,1.04)" text-anchor="end">6.0x10</text>
<text transform="translate(77.6,136.10) scale(1,1.04)" font-size="9">4</text>
<text transform="translate(77.1,90.60) scale(1,1.04)" text-anchor="end">8.0x10</text>
<text transform="translate(77.6,81.60) scale(1,1.04)" font-size="9">4</text>
<text transform="translate(77.1,36.10) scale(1,1.04)" text-anchor="end">1.0x10</text>
<text transform="translate(77.6,27.10) scale(1,1.04)" font-size="9">5</text>
<text transform="translate(82.9,305.3) scale(1,1.04)" text-anchor="end">0.0</text>
<text transform="translate(499.4,308.40) scale(1,1.04)">0.0</text>
<text transform="translate(499.4,253.74) scale(1,1.04)">0.2</text>
<text transform="translate(499.4,199.08) scale(1,1.04)">0.4</text>
<text transform="translate(499.4,144.42) scale(1,1.04)">0.6</text>
<text transform="translate(499.4,89.76) scale(1,1.04)">0.8</text>
<text transform="translate(499.4,35.10) scale(1,1.04)">1.0</text>
<text transform="translate(122.20,325.8) scale(1,1.04)" text-anchor="middle">250</text>
<text transform="translate(171.70,325.8) scale(1,1.04)" text-anchor="middle">300</text>
<text transform="translate(221.20,325.8) scale(1,1.04)" text-anchor="middle">350</text>
<text transform="translate(270.70,325.8) scale(1,1.04)" text-anchor="middle">400</text>
<text transform="translate(320.20,325.8) scale(1,1.04)" text-anchor="middle">450</text>
<text transform="translate(369.70,325.8) scale(1,1.04)" text-anchor="middle">500</text>
<text transform="translate(419.20,325.8) scale(1,1.04)" text-anchor="middle">550</text>
<text transform="translate(468.70,325.8) scale(1,1.04)" text-anchor="middle">600</text>
<text transform="translate(224.6,352.6)" font-size="16.3" textLength="136" lengthAdjust="spacingAndGlyphs">Wavelength (nm)</text>
<text transform="translate(545.8,237.2) rotate(-90)" font-size="17.3" textLength="163" lengthAdjust="spacingAndGlyphs">Normalized FL (a.u.)</text>
<text transform="translate(22.5,197.4) rotate(-90)" font-size="15">ε</text>
<text transform="translate(22.4,180.3) rotate(-90) scale(1.0,1)" font-size="18">(M</text>
<text transform="translate(11.3,154.6) rotate(-90) scale(1.0,1)" font-size="9.5">-1</text>
<text transform="translate(22.4,138.8) rotate(-90) scale(1.0,1)" font-size="18">cm</text>
<text transform="translate(11.8,113.0) rotate(-90) scale(1.0,1)" font-size="9.5">-1</text>
<text transform="translate(22.4,106.0) rotate(-90) scale(1.0,1)" font-size="18">)</text>
<text transform="translate(103.8,54.7) scale(1,1.04)" textLength="48.2" lengthAdjust="spacingAndGlyphs">270 nm</text>
<line x1="134.6" y1="58" x2="141.4" y2="123.7" stroke="#808080" stroke-width="1"/>
<path d="M141.40,123.70 L137.95,118.53 L143.72,117.93 Z" fill="#000"/>
<text transform="translate(158.2,49.7) scale(1,1.04)" textLength="51.6" lengthAdjust="spacingAndGlyphs">308 nm</text>
<line x1="181.7" y1="52" x2="181.5" y2="75.8" stroke="#808080" stroke-width="1"/>
<path d="M181.50,75.80 L178.65,70.28 L184.45,70.32 Z" fill="#000"/>
<text transform="translate(205.4,70.3) scale(1,1.04)" textLength="51.6" lengthAdjust="spacingAndGlyphs">306 nm</text>
<line x1="202.2" y1="69" x2="179.8" y2="90.8" stroke="#808080" stroke-width="1"/>
<path d="M179.80,90.80 L181.72,84.89 L185.76,89.04 Z" fill="#000"/>
<text transform="translate(152.5,177.3) scale(1,1.04)" textLength="51.9" lengthAdjust="spacingAndGlyphs">312 nm</text>
<line x1="183.1" y1="180.5" x2="183.1" y2="200.6" stroke="#808080" stroke-width="1"/>
<path d="M183.10,200.60 L180.20,195.10 L186.00,195.10 Z" fill="#000"/>
<text transform="translate(245.3,13.6) scale(1,1.04)" textLength="48.3" lengthAdjust="spacingAndGlyphs">456 nm</text>
<text transform="translate(301,13.6) scale(1,1.04)" textLength="47.6" lengthAdjust="spacingAndGlyphs">462 nm</text>
<text transform="translate(356.8,13.6) scale(1,1.04)" textLength="47.3" lengthAdjust="spacingAndGlyphs">470 nm</text>
<line x1="266.5" y1="15.7" x2="318.2" y2="31.6" stroke="#808080" stroke-width="1"/>
<path d="M318.20,31.60 L312.09,32.76 L313.80,27.21 Z" fill="#000"/>
<line x1="328.3" y1="14.5" x2="330.6" y2="24.4" stroke="#808080" stroke-width="1"/>
<path d="M330.60,24.40 L326.53,19.70 L332.18,18.39 Z" fill="#000"/>
<line x1="369.5" y1="15.1" x2="348.2" y2="31.1" stroke="#808080" stroke-width="1"/>
<path d="M348.20,31.10 L350.86,25.48 L354.34,30.12 Z" fill="#000"/>
<ellipse cx="330.8" cy="28.4" rx="34.5" ry="11.2" stroke="#333" stroke-width="1.2" fill="none"/>
<line x1="365.4" y1="27.8" x2="418.4" y2="27.8" stroke="#808080" stroke-width="1"/>
<path d="M418.40,27.80 L412.90,30.70 L412.90,24.90 Z" fill="#000"/>
<line x1="393.3" y1="55.7" x2="426.5" y2="55.7" stroke="#000" stroke-width="1.8"/>
<line x1="393.3" y1="73.2" x2="426.5" y2="73.2" stroke="#f00" stroke-width="1.8"/>
<line x1="393.3" y1="90.5" x2="426.5" y2="90.5" stroke="#00f" stroke-width="1.8"/>
<path d="M393.5,108.7 L400.7,108.7 M407.1,108.7 L414.4,108.7 M420.7,108.7 L426.3,108.7" stroke="#000" stroke-width="1.8"/>
<text transform="translate(429.6,60.6) scale(1,1.04)" font-size="14.2">2</text>
<text transform="translate(429.6,78.2) scale(1,1.04)" font-size="14.2">3</text>
<text transform="translate(429.6,95.8) scale(1,1.04)" font-size="14.2">DPEC</text>
<text transform="translate(429.6,113.2) scale(1,1.04)" font-size="14.2">TBBT</text>
</svg>
</body></html>
